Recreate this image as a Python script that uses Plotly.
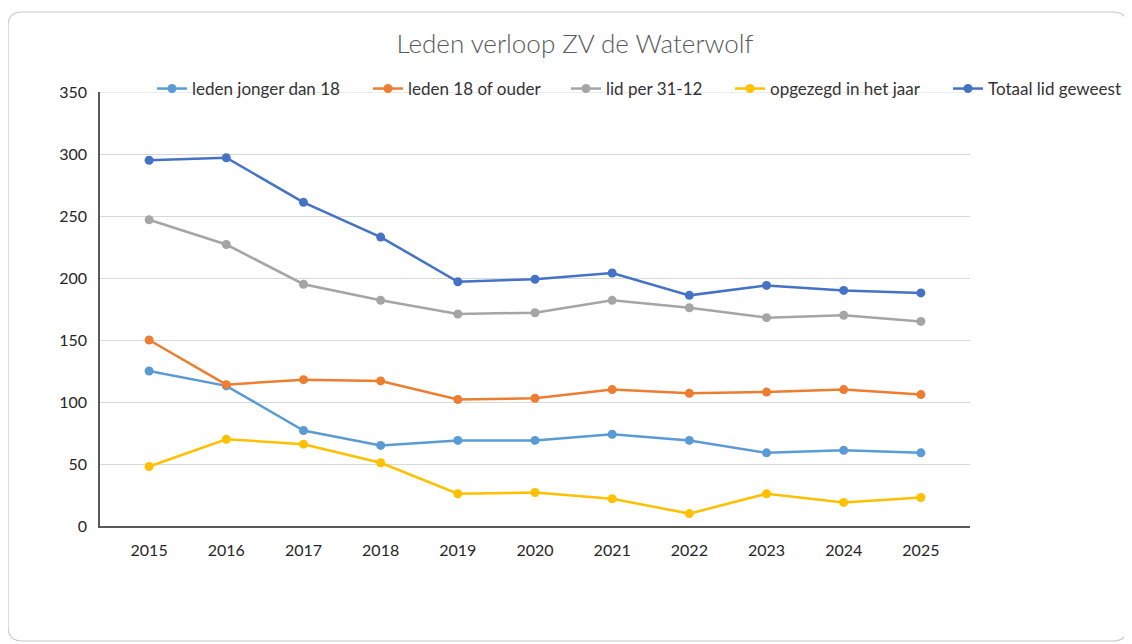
import plotly.graph_objects as go

years = ["2015", "2016", "2017", "2018", "2019", "2020", "2021", "2022", "2023", "2024", "2025"]
jonger_18 = [125, 113, 77, 65, 69, 69, 74, 69, 59, 61, 59]
ouder_18 = [150, 114, 118, 117, 102, 103, 110, 107, 108, 110, 106]
lid_31_12 = [247, 227, 195, 182, 171, 172, 182, 176, 168, 170, 165]
opgezegd = [48, 70, 66, 51, 26, 27, 22, 10, 26, 19, 23]
totaal = [295, 297, 261, 233, 197, 199, 204, 186, 194, 190, 188]

series_names = ["leden jonger dan 18", "leden 18 of ouder", "lid per 31-12",
                "opgezegd in het jaar", "Totaal lid geweest"]
series_values = [jonger_18, ouder_18, lid_31_12, opgezegd, totaal]
series_colors = ["#5B9BD5", "#ED7D31", "#A5A5A5", "#FFC000", "#4472C4"]
legend_text_x = [192, 408, 606, 770, 988]  # screen x where each legend label starts

FONT = "Lato, Open Sans, sans-serif"
OFF = 8  # page body margin

W, H = 1132 - OFF, 644 - OFF
L, R, T, B = 100 - OFF, 970 - OFF, 92 - OFF, 526 - OFF

def px(x):
    return (x - OFF - L) / (R - L)

def py(y):
    return (B - (y - OFF)) / (B - T)

fig = go.Figure()
legends = {}
for i, (name, vals, col) in enumerate(zip(series_names, series_values, series_colors)):
    lname = "legend" if i == 0 else f"legend{i+1}"
    fig.add_trace(go.Scatter(
        x=years, y=vals, name=name, mode="lines+markers",
        line=dict(color=col, width=2.5),
        marker=dict(color=col, size=9),
        legend=lname, showlegend=True,
    ))
    legends[lname] = dict(orientation="h", x=px(legend_text_x[i] - 40), xanchor="left",
                          y=py(89), yanchor="middle",
                          font=dict(family=FONT, size=17, color="#333333"),
                          bgcolor="rgba(0,0,0,0)", itemwidth=30)

# rounded card border (reference screen coords)
x0, x1, y0, y1, r = 8, 1127, 12, 641, 14
rx = r / (R - L)
ry = r / (B - T)
path = (
    f"M {px(x0)+rx},{py(y0)} L {px(x1)-rx},{py(y0)} Q {px(x1)},{py(y0)} {px(x1)},{py(y0)-ry} "
    f"L {px(x1)},{py(y1)+ry} Q {px(x1)},{py(y1)} {px(x1)-rx},{py(y1)} "
    f"L {px(x0)+rx},{py(y1)} Q {px(x0)},{py(y1)} {px(x0)},{py(y1)+ry} "
    f"L {px(x0)},{py(y0)-ry} Q {px(x0)},{py(y0)} {px(x0)+rx},{py(y0)} Z"
)

fig.update_layout(
    width=W, height=H,
    showlegend=True,
    margin=dict(l=L, r=W - R, t=T, b=H - B, autoexpand=False),
    paper_bgcolor="white", plot_bgcolor="white",
    font=dict(family=FONT, size=16, color="#262626"),
    title=dict(text="Leden verloop ZV de Waterwolf", x=px(575), xanchor="center", xref="paper",
               y=1 - (44 - OFF) / H, yanchor="middle",
               font=dict(family=FONT, size=26, color="#595959", weight=300)),
    xaxis=dict(type="category", showgrid=False, showline=True, linecolor="#595959", linewidth=1.5,
               ticks="", tickfont=dict(size=16, color="#262626"), ticklabelstandoff=9),
    yaxis=dict(range=[0, 350], dtick=50, showgrid=True, gridcolor="#D9D9D9", gridwidth=1,
               showline=True, linecolor="#595959", linewidth=1.5, zeroline=False,
               ticks="", tickfont=dict(size=16, color="#262626"), ticklabelstandoff=8),
    shapes=[
        dict(type="path", path=path, xref="paper", yref="paper",
             line=dict(color="#C8C8C8", width=1.2), fillcolor="rgba(0,0,0,0)", layer="below"),
        dict(type="line", xref="paper", yref="y", x0=0, x1=1, y0=350, y1=350,
             line=dict(color="#D9D9D9", width=1), layer="below"),
    ],
    **legends,
)

fig.write_html("out.html")
